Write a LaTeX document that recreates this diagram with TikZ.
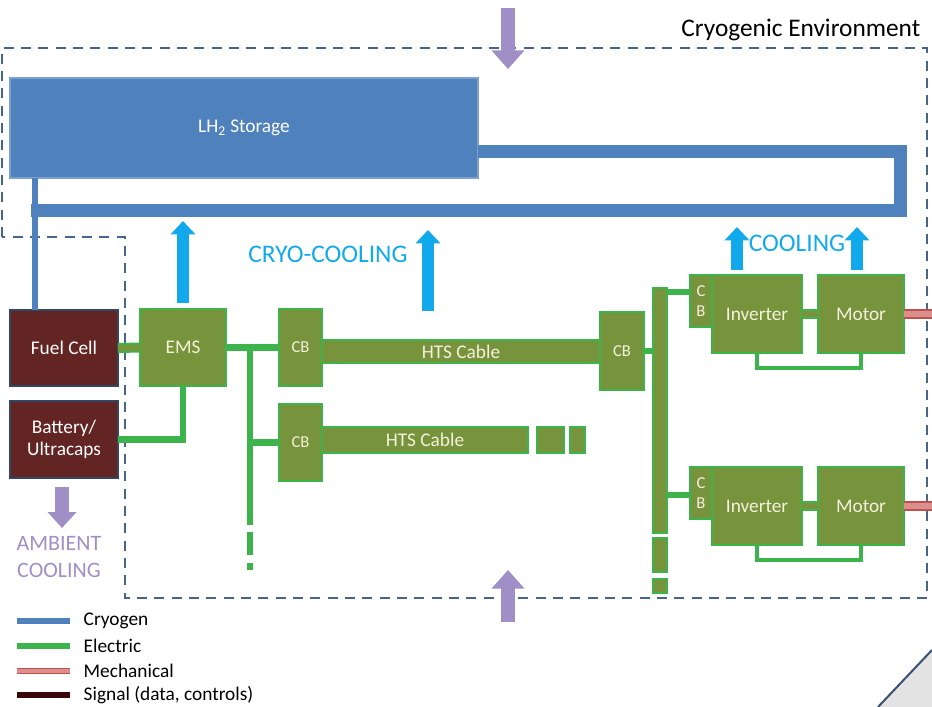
\documentclass[tikz,border=0pt]{standalone}
\usepackage{fontspec}
\setmainfont{Carlito}
\usetikzlibrary{arrows.meta}

\definecolor{cryoblue}{HTML}{4F81BD}
\definecolor{elecgreen}{HTML}{3CB44B}
\definecolor{olivebox}{HTML}{77933C}
\definecolor{fcmaroon}{HTML}{632523}
\definecolor{mechred}{HTML}{C0504D}
\definecolor{mechpink}{HTML}{E3A09E}
\definecolor{sigbrown}{HTML}{3A0808}
\definecolor{envslate}{HTML}{46658C}
\definecolor{coolcyan}{HTML}{12A9EC}
\definecolor{ambpurple}{HTML}{A08FC6}
\definecolor{boxtext}{HTML}{F4F1DC}

\tikzset{
  pix/.style={x=0.75pt, y=-0.75pt},
  size/.style 2 args={minimum width=#1*0.75pt, minimum height=#2*0.75pt},
  unit/.style={inner sep=0pt, outer sep=0pt, align=center, font=\fontsize{14.5}{17}\selectfont},
  tankbox/.style={unit, fill=cryoblue, draw=cryoblue!75!white, line width=0.8pt, text=white},
  srcbox/.style={unit, fill=fcmaroon, draw=envslate!70!black, line width=1.5pt, text=white},
  elbox/.style={unit, fill=olivebox, draw=elecgreen, line width=2pt, text=boxtext},
  cbbox/.style={elbox, font=\fontsize{12.5}{15.5}\selectfont},
  cryopipe/.style={draw=cryoblue, line width=9.75pt},
  cryofeed/.style={draw=cryoblue, line width=4.5pt},
  wire/.style={draw=elecgreen, line width=5pt},
  thinwire/.style={draw=elecgreen, line width=3.5pt},
  busbar/.style={draw=elecgreen, line width=1.5pt, double=olivebox, double distance=4.5pt},
  shaft/.style={draw=mechred, line width=1pt, double=mechpink!80!mechred, double distance=5pt},
  cryoarrow/.style={draw=coolcyan, line width=9pt, -{Triangle[width=18pt, length=10pt]}},
  heatarrow/.style={draw=ambpurple, line width=11pt, -{Triangle[width=24pt, length=14pt]}},
  envline/.style={draw=envslate, line width=2.2pt, dash pattern=on 7.5pt off 5.5pt},
  headfont/.style={font=\fontsize{19}{23}\selectfont},
  legfont/.style={anchor=west, font=\fontsize{14.5}{17}\selectfont},
  swatchcryo/.style={draw=cryoblue, line width=4.5pt},
  swatchelec/.style={draw=elecgreen, line width=4.5pt},
  swatchmech/.style={shaft, double distance=2.5pt},
  swatchsig/.style={draw=sigbrown, line width=4.5pt},
}

\begin{document}
\begin{tikzpicture}[pix]
  \useasboundingbox (0,0) rectangle (932,707);
  % cryogenic environment
  \draw[envline] (2,237) -- (2,48) -- (927,48) -- (927,598) -- (125,598) -- (125,237) -- cycle;
  \node[headfont, anchor=east] (envlabel) at (925,30) {Cryogenic Environment};

  % heat in / heat out
  \draw[heatarrow] (508,8) -- (508,69);
  \draw[heatarrow] (508,622) -- (508,570);
  \draw[heatarrow, line width=10pt, -{Triangle[width=21pt, length=12pt]}] (62,487) -- (62,528);

  % storage and sources
  \node[tankbox, size={468}{100}] (lh2) at (244,128) {LH\textsubscript{2} Storage};
  \node[srcbox, size={108}{76}] (fc) at (64,348) {Fuel Cell};
  \node[srcbox, size={108}{77}] (bat) at (64,439.5) {Battery/\\Ultracaps};

  % cryogen loop
  \coordinate (feed) at (35,0);
  \draw[cryopipe] (lh2.east |- 0,151) -- (900,151) -- (900,210) -- (31,210);
  \draw[cryofeed] (lh2.south -| feed) -- (fc.north -| feed);

  % distribution
  \node[elbox, size={86}{77}] (ems) at (183,347.5) {EMS};
  \node[elbox, size={278}{23}] (htsA) at (461,351.5) {HTS Cable};
  \node[elbox, size={206}{26}] (htsB) at (425,440) {HTS Cable};
  \foreach \x/\w [count=\i] in {550.5/27, 577.5/15}
    \node[elbox, size={\w}{26}] (htsB\i) at (\x,440) {};
  \node[cbbox, size={43}{77}] (cbA) at (300.5,347.5) {CB};
  \node[cbbox, size={43}{77}] (cbB) at (300.5,442.5) {CB};
  \node[cbbox, size={44}{78}] (cbC) at (622,351) {CB};
  \node[elbox, size={14}{245}] (busR) at (660,410.5) {};
  \foreach \y/\h [count=\i] in {555/34, 586/14}
    \node[elbox, size={14}{\h}] (busR\i) at (660,\y) {};

  \coordinate (tapL) at (250,0);
  \draw[busbar] (fc.east) -- (ems.west);
  \draw[wire] (bat.east) -| (ems.south);
  \draw[wire] (ems.east) -- (cbA.west);
  \draw[wire] (ems.east -| tapL) -- (250,525);
  \draw[wire] (cbB.west -| tapL) -- (cbB.west);
  \foreach \a/\b in {532/555, 563/570}
    \draw[wire] (250,\a) -- (250,\b);
  \draw[wire] (cbC.east) -- (busR.west |- cbC.east);

  % drive units
  \foreach \n/\y/\t in {U/275/292, L/467/495}{
    \node[elbox, size={90}{78}] (inv\n) at (757,\y+39) {Inverter};
    \node[cbbox, size={22}{52}] (cb\n) at (701,\y+26) {C\\B};
    \node[elbox, size={86}{78}] (mot\n) at (861,\y+39) {Motor};
    \draw[wire] (busR.east |- 0,\t) -- (cb\n.west |- 0,\t);
    \draw[busbar] (inv\n.east) -- (mot\n.west);
    \draw[thinwire] (inv\n.south) -- ++(0,15) -| (mot\n.south);
    \draw[shaft] (mot\n.east) -- ++(30,0);
  }

  % cooling
  \foreach \x/\a/\b in {183/303/221, 428/311/230, 737/270/227, 857/270/227}
    \draw[cryoarrow] (\x,\a) -- (\x,\b);
  \node[headfont, text=coolcyan] (cryocool) at (328,254) {CRYO-COOLING};
  \node[headfont, text=coolcyan] (cool) at (797,243) {COOLING};
  \node[text=ambpurple, align=center, font=\fontsize{16.5}{20}\selectfont] (ambient) at (59,557) {AMBIENT\\COOLING};

  % legend
  \foreach \y/\sty/\txt [count=\i] in {621/swatchcryo/Cryogen, 646/swatchelec/Electric,
      671/swatchmech/Mechanical, 695/swatchsig/{Signal (data, controls)}}{
    \node[legfont] (leg\i) at (79,\y) {\txt};
    \draw[\sty] (leg\i.west) ++(-9,0) -- ++(-53,0);
  }

  % page corner
  \fill[gray!22] (878,707) -- (932,650) -- (932,707) -- cycle;
  \draw[envslate!80!black, line width=1.5pt] (878,707) -- (932,650);
\end{tikzpicture}
\end{document}
